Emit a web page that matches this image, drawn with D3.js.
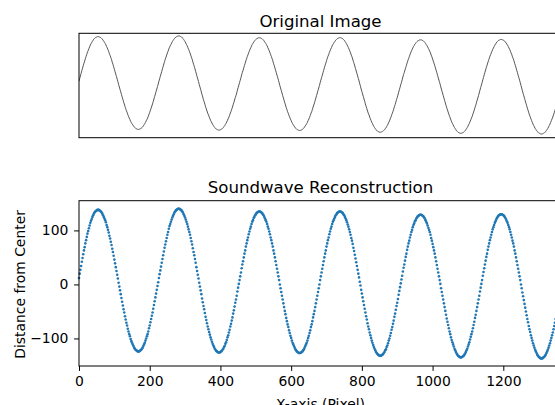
<!DOCTYPE html>
<html>
<head>
<meta charset="utf-8">
<script src="https://cdn.jsdelivr.net/npm/d3@7"></script>
<style>
  body { margin: 0; background: #fff; }
  svg { display: block; font-family: "DejaVu Sans", sans-serif; }
</style>
</head>
<body>
<script>
'use strict'

// distance of the wave from the centre row
// one value every `pixelStep` pixel columns, starting at column 0
const pixelStep = 2
const distance = [
  12,20,27,34,42,49,56,63,69,76,82,88,94,99,104,109,114,118,121,125,128,131,133,135,136,137,138,
  138,138,137,136,135,133,131,128,125,122,119,115,110,106,101,96,90,85,79,73,66,60,53,46,39,32,25,18,11,3,-4,-11,-18,-25,-32,-39,-46,-52,-59,-65,-71,-76,-82,-87,-92,-96,-101,-105,-108,-111,-114,-117,-119,-121,-122,-123,-124,
  -124,-124,-123,-122,-121,-119,-117,-114,-111,-108,-104,-100,-96,-92,-87,-81,-76,-70,-64,-58,-52,-45,-38,-31,-24,-17,-10,-3,4,12,19,26,33,40,47,54,61,68,74,80,86,92,97,103,108,112,116,120,124,127,130,133,135,137,138,139,140,
  140,140,139,138,137,135,133,130,127,124,120,116,112,107,102,97,92,86,80,74,67,60,54,47,40,32,25,18,11,3,-4,-11,-18,-26,-33,-40,-46,-53,-60,-66,-72,-78,-83,-88,-93,-98,-102,-106,-110,-113,-116,-119,-121,-123,-124,-125,-126,
  -126,-126,-125,-124,-123,-121,-119,-116,-114,-110,-107,-103,-98,-94,-89,-84,-78,-73,-67,-61,-54,-48,-41,-34,-28,-21,-13,-6,1,8,15,22,30,37,43,50,57,63,70,76,82,87,93,98,103,107,112,116,119,123,125,128,130,132,133,134,135,
  135,135,134,133,132,130,128,125,122,119,116,112,107,103,98,93,87,82,76,70,63,57,50,43,36,29,22,15,8,0,-7,-14,-21,-28,-35,-42,-49,-55,-62,-68,-74,-79,-85,-90,-95,-99,-104,-108,-111,-114,-117,-120,-122,-124,-125,-126,-127,
  -127,-127,-126,-125,-124,-122,-120,-117,-114,-111,-108,-104,-99,-95,-90,-85,-79,-74,-68,-61,-55,-49,-42,-35,-28,-21,-14,-7,0,8,15,22,29,36,43,50,57,63,70,76,82,87,93,98,103,107,112,116,119,122,125,128,130,132,133,134,135,
  135,135,134,133,132,130,128,125,122,119,115,111,107,102,97,92,86,81,75,68,62,55,48,41,34,27,20,13,5,-2,-10,-17,-24,-31,-38,-45,-52,-59,-65,-72,-78,-83,-89,-94,-99,-104,-108,-112,-116,-119,-122,-125,-127,-129,-130,-131,-132,
  -132,-132,-131,-130,-129,-127,-125,-122,-120,-116,-113,-109,-104,-100,-95,-90,-84,-79,-73,-67,-60,-54,-47,-40,-34,-27,-19,-12,-5,2,9,16,24,31,37,44,51,57,64,70,76,81,87,92,97,101,106,110,113,117,119,122,124,126,127,128,129,
  129,129,128,127,126,124,122,119,116,113,109,105,101,97,92,86,81,75,69,63,57,50,43,36,29,22,15,8,1,-7,-14,-21,-28,-35,-42,-49,-56,-63,-69,-75,-81,-87,-92,-98,-103,-107,-111,-115,-119,-122,-125,-128,-130,-132,-133,-134,-135,
  -135,-135,-134,-133,-132,-130,-128,-125,-122,-119,-115,-111,-107,-102,-97,-92,-87,-81,-75,-69,-62,-56,-49,-42,-35,-28,-21,-13,-6,1,8,16,23,30,37,44,51,57,64,70,76,82,87,92,97,102,106,110,114,117,120,123,125,127,128,129,130,
  130,130,129,128,127,125,123,120,117,114,110,106,102,97,92,87,81,76,70,63,57,50,43,36,29,22,15,8,0,-7,-15,-22,-29,-36,-43,-50,-57,-64,-70,-77,-83,-88,-94,-99,-104,-109,-113,-117,-121,-124,-127,-130,-132,-134,-135,-136,-137,
  -137,-137,-136,-135,-134,-132,-130,-127,-124,-121,-117,-113,-109,-104,-99,-94,-89,-83,-77,-71,-64,-58,-51,-44,-37,-30,-23,-15,-8,-1
]

const xTicks = [0, 200, 400, 600, 800, 1000, 1200]
const yTicks = [-100, 0, 100]
const imageWidth = 1366       // pixel columns of the original picture
const imageHalfHeight = 147.5 // rows above / below the centre row
const yLimits = [-151, 155]

const m = {
  width: 555,
  height: 405,
  left: 79,
  right: 562
}
const tickFont = '13.9px'
const titleFont = '16.6px'
const tickLen = 4.9

const points = distance.map((d, i) => ({ col: i * pixelStep, dist: d }))

const svg = d3.select('body')
  .append('svg')
  .attr('width', m.width)
  .attr('height', m.height)

// shared x scale, pixel column -> screen
const xScale = d3.scaleLinear()
  .domain([0, imageWidth])
  .range([m.left, m.right])

/*** top panel: the original image ***/
const topBox = { y0: 33.3, y1: 137.7 }
const imgY = d3.scaleLinear()
  .domain([imageHalfHeight, -imageHalfHeight])
  .range([topBox.y0, topBox.y1])

svg.append('clipPath').attr('id', 'clip-top')
  .append('rect')
  .attr('x', m.left).attr('y', topBox.y0)
  .attr('width', m.right - m.left).attr('height', topBox.y1 - topBox.y0)

svg.append('path')
  .datum(points)
  .attr('clip-path', 'url(#clip-top)')
  .attr('fill', 'none')
  .attr('stroke', '#555')
  .attr('stroke-width', 1)
  .attr('d', d3.line()
    .x((d) => xScale(d.col))
    .y((d) => imgY(d.dist))
    .curve(d3.curveMonotoneX))

svg.append('rect')
  .attr('x', m.left).attr('y', topBox.y0)
  .attr('width', m.right - m.left).attr('height', topBox.y1 - topBox.y0)
  .attr('fill', 'none')
  .attr('stroke', '#000')
  .attr('stroke-width', 1)

svg.append('text')
  .attr('x', (m.left + m.right) / 2)
  .attr('y', 26.5)
  .attr('text-anchor', 'middle')
  .style('font-size', titleFont)
  .text('Original Image')

/*** bottom panel: reconstruction scatter ***/
const botBox = { y0: 200.7, y1: 366 }
const yScale = d3.scaleLinear()
  .domain(yLimits)
  .range([botBox.y1, botBox.y0])

svg.append('g')
  .selectAll('circle')
  .data(points)
  .enter()
  .append('circle')
    .attr('cx', (d) => xScale(d.col))
    .attr('cy', (d) => yScale(d.dist))
    .attr('r', 1.3)
    .style('fill', '#1f77b4')

svg.append('rect')
  .attr('x', m.left).attr('y', botBox.y0)
  .attr('width', m.right - m.left).attr('height', botBox.y1 - botBox.y0)
  .attr('fill', 'none')
  .attr('stroke', '#000')
  .attr('stroke-width', 1)

const xAxis = d3.axisBottom(xScale)
  .tickValues(xTicks)
  .tickFormat(d3.format('d'))
  .tickSize(tickLen)
  .tickSizeOuter(0)
  .tickPadding(5.2)
const gx = svg.append('g')
  .attr('transform', 'translate(0, ' + botBox.y1 + ')')
  .call(xAxis)

const yAxis = d3.axisLeft(yScale)
  .tickValues(yTicks)
  .tickFormat(d3.format('d'))
  .tickSize(tickLen)
  .tickSizeOuter(0)
  .tickPadding(5.8)
const gy = svg.append('g')
  .attr('transform', 'translate(' + m.left + ', 0)')
  .call(yAxis)

for (const g of [gx, gy]) {
  g.select('.domain').remove()
  g.selectAll('.tick line').attr('stroke', '#000').attr('stroke-width', 1)
  g.selectAll('.tick text')
    .attr('fill', '#000')
    .style('font-size', tickFont)
    .style('font-family', '"DejaVu Sans", sans-serif')
}

svg.append('text')
  .attr('x', (m.left + m.right) / 2)
  .attr('y', 193)
  .attr('text-anchor', 'middle')
  .style('font-size', titleFont)
  .text('Soundwave Reconstruction')

svg.append('text')
  .attr('x', (m.left + m.right) / 2)
  .attr('y', 409)
  .attr('text-anchor', 'middle')
  .style('font-size', tickFont)
  .text('X-axis (Pixel)')

svg.append('text')
  .attr('transform', 'translate(24.5, ' + yScale(0) + ')rotate(-90)')
  .attr('text-anchor', 'middle')
  .style('font-size', tickFont)
  .text('Distance from Center')
</script>
</body>
</html>
